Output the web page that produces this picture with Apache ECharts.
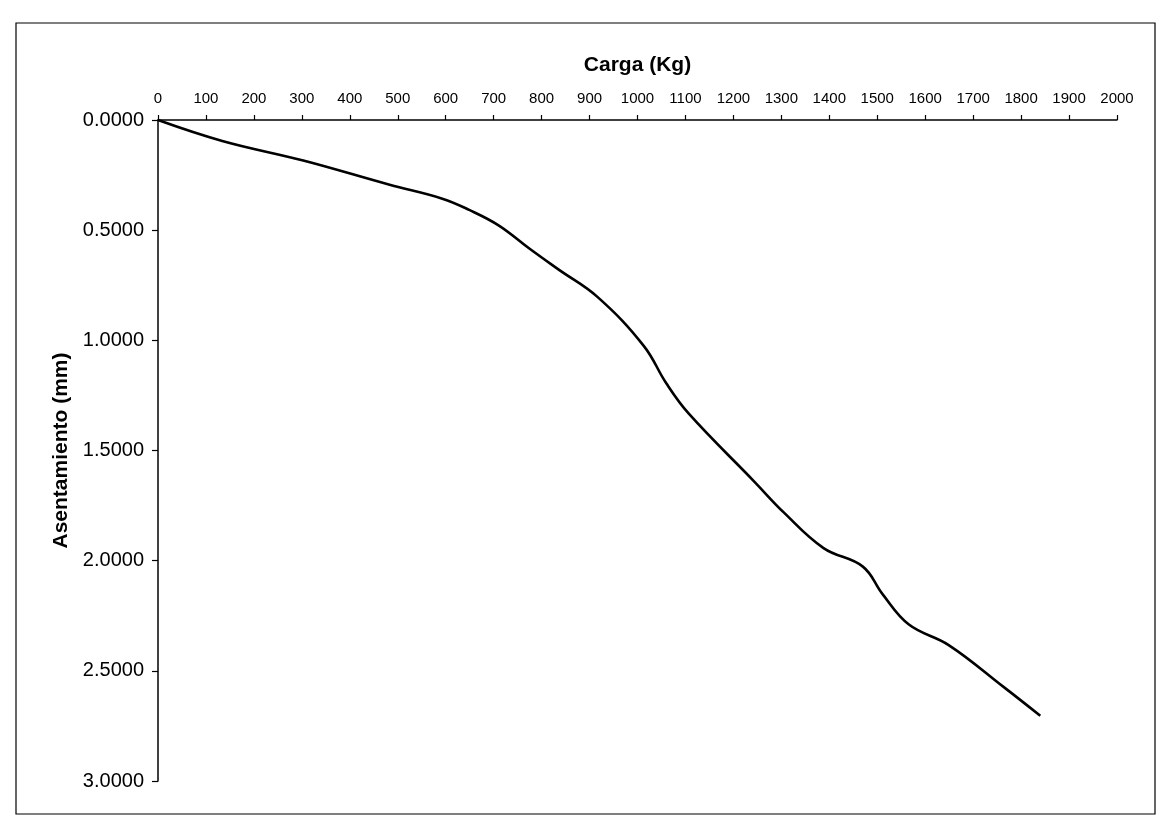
<!DOCTYPE html>
<html>
<head>
<meta charset="utf-8">
<title>Carga vs Asentamiento</title>
<script src="https://cdn.jsdelivr.net/npm/echarts@6/dist/echarts.min.js"></script>
<style>
    html, body {margin: 0; padding: 0; background: #fff;}
    #chart {width: 1157px; height: 821px;}
</style>
</head>
<body>
<div id="chart"></div>
<script>
// carga aplicada (Kg)
var cargaKg = [0, 134, 303, 483, 593, 649, 711, 773, 835, 917, 1013, 1060, 1107, 1244, 1305, 1388, 1470, 1511, 1566, 1649, 1764, 1840];
// asentamiento medido (mm)
var asentamientoMm = [0, 0.095, 0.184, 0.294, 0.357, 0.408, 0.479, 0.581, 0.678, 0.804, 1.025, 1.195, 1.333, 1.642, 1.781, 1.943, 2.027, 2.152, 2.290, 2.383, 2.574, 2.704];

var xTitulo = "Carga (Kg)";
var yTitulo = "Asentamiento (mm)";

var FONT = "Liberation Sans, Arial, sans-serif";

$ready();

function $ready() {
    var dom = document.getElementById('chart');
    var myChart = echarts.init(dom);

    var puntos = [];
    for (var i = 0; i < cargaKg.length; i++) {
        puntos.push([cargaKg[i], asentamientoMm[i]]);
    }

    var option = {
        backgroundColor: '#fff',
        animation: false,
        // marco exterior del grafico
        graphic: [{
            type: 'rect',
            shape: {x: 16, y: 23, width: 1139, height: 791},
            style: {fill: 'none', stroke: '#000', lineWidth: 1.2}
        }],
        grid: {left: 158, top: 120, right: 40, bottom: 40},
        xAxis: {
            type: 'value',
            position: 'top',
            min: 0,
            max: 2000,
            interval: 100,
            name: xTitulo,
            nameLocation: 'middle',
            nameGap: 44,
            nameTextStyle: {fontFamily: FONT, fontSize: 21, fontWeight: 'bold', color: '#000'},
            axisLine: {lineStyle: {color: '#000', width: 1.5}},
            axisTick: {length: 5, lineStyle: {color: '#000', width: 1.2}},
            axisLabel: {
                fontFamily: FONT, fontSize: 15, color: '#000', margin: 14,
                formatter: function (v) { return String(v); }
            },
            splitLine: {show: false}
        },
        yAxis: {
            type: 'value',
            inverse: true,
            min: 0,
            max: 3,
            interval: 0.5,
            name: yTitulo,
            nameLocation: 'middle',
            nameGap: 85,
            nameTextStyle: {fontFamily: FONT, fontSize: 21, fontWeight: 'bold', color: '#000'},
            axisLine: {show: true, lineStyle: {color: '#000', width: 1.5}},
            axisTick: {show: true, length: 6, lineStyle: {color: '#000', width: 1.2}},
            axisLabel: {
                fontFamily: FONT, fontSize: 20, color: '#000', margin: 14,
                formatter: function (v) { return v.toFixed(4); }
            },
            splitLine: {show: false}
        },
        series: [{
            type: 'line',
            data: puntos,
            smooth: 0.4,
            showSymbol: false,
            lineStyle: {color: '#000', width: 2.6}
        }]
    };
    myChart.setOption(option);
}
</script>
</body>
</html>
